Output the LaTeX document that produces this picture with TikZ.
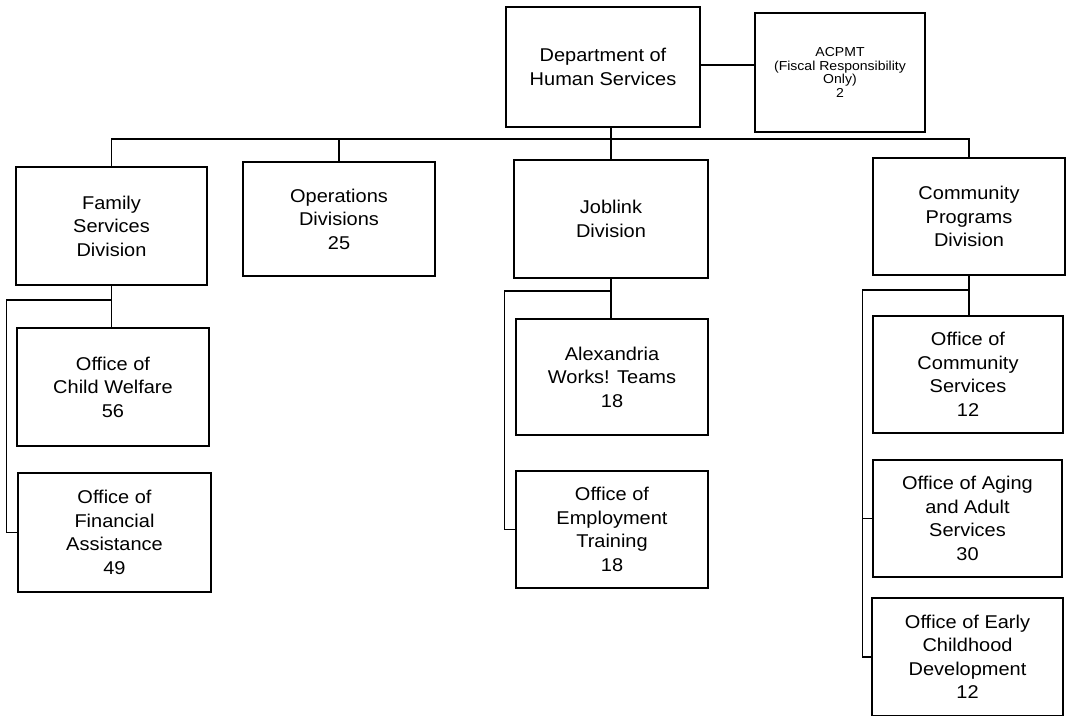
\documentclass[tikz,border=0pt]{standalone}
\usepackage{fontspec}
\setmainfont{Liberation Sans}[FakeStretch=1.08]
\begin{document}
\begin{tikzpicture}[x=1pt,y=-1pt,
  orgbox/.style={draw, line width=1.5pt, inner sep=0pt, align=center,
    font=\fontsize{18.5}{23.5}\selectfont},
  smallbox/.style={orgbox, font=\fontsize{13}{13.5}\selectfont},
  conn/.style={line width=1.2pt}]
\useasboundingbox[fill=white] (0,0) rectangle (1067,715);
% top level
\node[orgbox, minimum width=194pt, minimum height=120pt] (dhs) at (603,67) {Department of\\Human Services};
\node[smallbox, minimum width=170pt, minimum height=119pt] (acpmt) at (840,72.5) {ACPMT\\(Fiscal Responsibility\\Only)\\2};
% divisions
\node[orgbox, minimum width=191pt, minimum height=118pt] (fam) at (111.5,226) {Family\\Services\\Division};
\node[orgbox, minimum width=192pt, minimum height=114pt] (ops) at (339,219) {Operations\\Divisions\\25};
\node[orgbox, minimum width=194pt, minimum height=118pt] (job) at (611,219) {Joblink\\Division};
\node[orgbox, minimum width=192pt, minimum height=117pt] (com) at (969,216.5) {Community\\Programs\\Division};
% offices
\node[orgbox, minimum width=192pt, minimum height=118pt] (cw) at (113,387) {Office of\\Child Welfare\\56};
\node[orgbox, minimum width=193pt, minimum height=119pt] (fa) at (114.5,532.5) {Office of\\Financial\\Assistance\\49};
\node[orgbox, minimum width=192pt, minimum height=116pt] (alex) at (612,377) {Alexandria\\Works! Teams\\18};
\node[orgbox, minimum width=192pt, minimum height=117pt] (emp) at (612,529.5) {Office of\\Employment\\Training\\18};
\node[orgbox, minimum width=190pt, minimum height=117pt] (cs) at (968,374.5) {Office of\\Community\\Services\\12};
\node[orgbox, minimum width=189pt, minimum height=117pt] (aging) at (967.5,518.5) {Office of Aging\\and Adult\\Services\\30};
\node[orgbox, minimum width=191pt, minimum height=118pt] (early) at (967.5,657) {Office of Early\\Childhood\\Development\\12};
% helper rows
\coordinate (bus) at (0,139);
\coordinate (rowF) at (0,300);
\coordinate (rowJ) at (0,291);
\coordinate (rowC) at (0,290);
% connectors
\draw[conn] (dhs.east |- 0,65) -- (acpmt.west |- 0,65);
\draw[conn] (dhs.south -| job.north) -- (job.north);
\draw[conn] (fam.north) -- (fam.north |- bus) -- (com.north |- bus) -- (com.north);
\draw[conn] (ops.north) -- (ops.north |- bus);
\draw[conn] (fam.south) -- (fam.south |- cw.north);
\draw[conn] (fam.south |- rowF) -| ([xshift=-11pt]fa.west) -- (fa.west);
\draw[conn] (job.south) -- (job.south |- alex.north);
\draw[conn] (job.south |- rowJ) -| ([xshift=-11pt]emp.west) -- (emp.west);
\draw[conn] (com.south) -- (com.south |- cs.north);
\draw[conn] (com.south |- rowC) -| ([xshift=-9pt]early.west) -- (early.west);
\draw[conn] ([xshift=-10pt]aging.west) -- (aging.west);
\end{tikzpicture}
\end{document}
